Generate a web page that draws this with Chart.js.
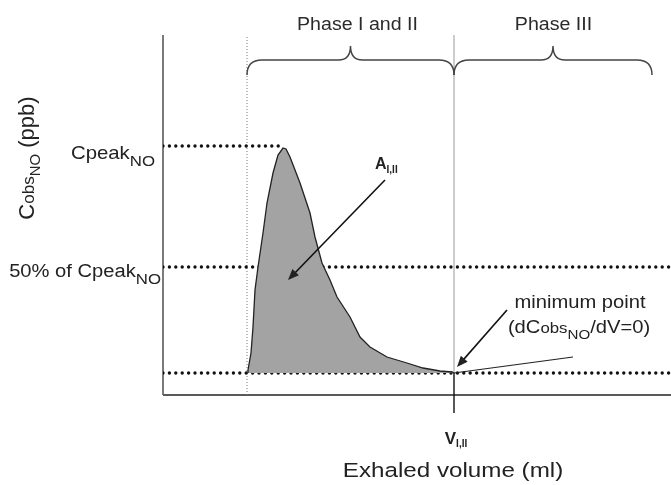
<!DOCTYPE html>
<html><head><meta charset="utf-8">
<script src="https://cdn.jsdelivr.net/npm/chart.js@4"></script>
<style>html,body{margin:0;padding:0;background:#fff}#wrap{width:671px;height:485px}</style>
</head><body><div id="wrap"><canvas id="c" width="671" height="485"></canvas></div>
<script>
// Exhaled NO profile (arbitrary units read from the schematic)
const volume = [85,85,88,90,92,95,100,104,110,115,120,123,127,137,147,152,159,167,174,187,197,207,224,244,260,277,289,291];
const cobs   = [22,25,42,68,105,128,162,192,222,240,247,246,238,212,182,158,132,115,98,78,58,48,38,32,27,24,23,22];
const cPeak = 249;   // Cpeak_NO level
const cHalf = 128;   // 50% of Cpeak_NO level
const cMin  = 22;    // minimum point level
const vStart = 84;   // start of exhalation
const vMin = 291;    // V_I,II
const phase3Volume = [291, 410];
const phase3Cobs   = [22, 38];
const xMax = 508, yMax = 360;
const phaseLabels = ['Phase I and II', 'Phase III'];
const phaseBounds = [[84, 291], [291, 489]];

const FONT = "'Liberation Sans', Arial, Helvetica, sans-serif";

function pts(xs, ys){ return xs.map((x,i)=>({x, y: ys[i]})); }

function rich(ctx, parts, x, y, align, s){
  s = s || 1.12;
  let w = 0;
  parts.forEach(p=>{ ctx.font = (p.bold?'bold ':'') + p.size + 'px ' + FONT; p.w = ctx.measureText(p.t).width; w += p.w; });
  const W = w * s;
  const sx = align === 'right' ? x - W : align === 'center' ? x - W/2 : x;
  ctx.save();
  ctx.translate(sx, y); ctx.scale(s, 1);
  let cx = 0;
  parts.forEach(p=>{ ctx.font = (p.bold?'bold ':'') + p.size + 'px ' + FONT; ctx.textAlign='left'; ctx.textBaseline='alphabetic'; ctx.fillText(p.t, cx, p.dy||0); cx += p.w; });
  ctx.restore();
}

function arrow(ctx, x1, y1, x2, y2){
  const a = Math.atan2(y2-y1, x2-x1), L = 11, W = 4.5;
  ctx.beginPath(); ctx.moveTo(x1,y1); ctx.lineTo(x2 - Math.cos(a)*L*0.8, y2 - Math.sin(a)*L*0.8); ctx.stroke();
  ctx.beginPath();
  ctx.moveTo(x2, y2);
  ctx.lineTo(x2 - Math.cos(a)*L + Math.sin(a)*W, y2 - Math.sin(a)*L - Math.cos(a)*W);
  ctx.lineTo(x2 - Math.cos(a)*L - Math.sin(a)*W, y2 - Math.sin(a)*L + Math.cos(a)*W);
  ctx.closePath(); ctx.fill();
}

const deco = {
  id: 'deco',
  beforeDatasetsDraw(chart){
    const {ctx, scales:{x, y}} = chart;
    ctx.save();
    ctx.strokeStyle = '#5a5a5a'; ctx.lineWidth = 1.6;
    ctx.beginPath(); ctx.moveTo(x.getPixelForValue(0), y.getPixelForValue(yMax)); ctx.lineTo(x.getPixelForValue(0), y.getPixelForValue(0)); ctx.stroke();
    ctx.lineWidth = 2;
    ctx.beginPath(); ctx.moveTo(x.getPixelForValue(0), y.getPixelForValue(0)); ctx.lineTo(x.getPixelForValue(xMax), y.getPixelForValue(0)); ctx.stroke();
    ctx.restore();
  },
  afterDatasetsDraw(chart){
    const {ctx, scales:{x, y}} = chart;
    const X = v => x.getPixelForValue(v), Y = v => y.getPixelForValue(v);
    ctx.save();
    // braces
    ctx.strokeStyle = '#444'; ctx.lineWidth = 1.5;
    const labelShift = [7, 0.5];
    phaseBounds.forEach(([a,b], i)=>{
      const x1 = X(a), x2 = X(b), xm = (x1+x2)/2;
      const yE = Y(yMax) + 40, yB = Y(yMax) + 25, yT = Y(yMax) + 11;
      ctx.beginPath();
      ctx.moveTo(x1, yE); ctx.quadraticCurveTo(x1, yB, x1+15, yB);
      ctx.lineTo(xm-12, yB); ctx.quadraticCurveTo(xm, yB, xm, yT);
      ctx.quadraticCurveTo(xm, yB, xm+12, yB);
      ctx.lineTo(x2-15, yB); ctx.quadraticCurveTo(x2, yB, x2, yE);
      ctx.stroke();
      ctx.fillStyle = '#2a2a2a';
      rich(ctx, [{t: phaseLabels[i], size: 17.5}], xm + labelShift[i], 30, 'center');
    });
    ctx.fillStyle = '#222'; ctx.strokeStyle = '#111'; ctx.lineWidth = 1.6;
    // level labels
    rich(ctx, [{t:'Cpeak', size:18.2},{t:'NO', size:15, dy:7}], X(0)-8, Y(cPeak)+13, 'right');
    rich(ctx, [{t:'50% of Cpeak', size:18},{t:'NO', size:15, dy:7}], X(0)-2, Y(cHalf)+10, 'right');
    // A_I,II
    rich(ctx, [{t:'A', size:16, bold:true},{t:'I,II', size:10, bold:true, dy:4}], X(212), Y(226), 'left', 1);
    arrow(ctx, X(222), Y(215), X(125), Y(115));
    // minimum point
    rich(ctx, [{t:'minimum point', size:18}], X(417), Y(87), 'center');
    rich(ctx, [{t:'(dC', size:18},{t:'obs', size:15},{t:'NO', size:13.5, dy:6},{t:'/dV=0)', size:18}], X(416), Y(62), 'center');
    arrow(ctx, X(344), Y(85), X(294), Y(28));
    // V_I,II
    rich(ctx, [{t:'V', size:17, bold:true},{t:'I,II', size:10, bold:true, dy:3}], X(vMin)+2, Y(0)+49, 'center', 1);
    // x title
    rich(ctx, [{t:'Exhaled volume (ml)', size:20.5}], X(vMin)-1, Y(0)+82, 'center', 1.18);
    // y title
    ctx.save();
    ctx.translate(34, 158); ctx.rotate(-Math.PI/2);
    rich(ctx, [{t:'C', size:22},{t:'obs', size:17},{t:'NO', size:15, dy:6},{t:' (ppb)', size:22}], 0, 0, 'center', 1);
    ctx.restore();
    ctx.restore();
  }
};

const dotted = (data) => ({ data, borderColor:'#111', borderWidth:3.4, borderDash:[0,6.4], borderCapStyle:'round', pointRadius:0, fill:false, tension:0 });

new Chart(document.getElementById('c'), {
  type: 'line',
  data: { datasets: [
    { data: pts(volume, cobs), borderColor:'#222', borderWidth:1.3, backgroundColor:'#a3a3a3', fill:{value:cMin}, pointRadius:0, tension:0 },
    { data: pts(phase3Volume, phase3Cobs), borderColor:'#222', borderWidth:1.2, pointRadius:0, fill:false, tension:0 },
    dotted(pts([0, 120], [cPeak, cPeak])),
    dotted(pts([0, xMax], [cHalf, cHalf])),
    dotted(pts([0, xMax], [cMin, cMin])),
    { data: pts([vStart, vStart], [0, yMax+3]), borderColor:'#777', borderWidth:1, borderDash:[1,2], pointRadius:0, fill:false },
    { data: pts([vMin, vMin], [cMin, yMax+5]), borderColor:'#aaa', borderWidth:1.2, pointRadius:0, fill:false },
    { data: pts([vMin, vMin], [-18, cMin]), borderColor:'#111', borderWidth:1.4, pointRadius:0, fill:false, clip:false }
  ]},
  options: {
    responsive:false, animation:false, events:[],
    layout:{ padding:{ left:163, top:35, right:0, bottom:90 } },
    plugins:{ legend:{display:false}, tooltip:{enabled:false} },
    scales:{
      x:{ type:'linear', min:0, max:xMax, display:false },
      y:{ type:'linear', min:0, max:yMax, display:false }
    }
  },
  plugins:[deco]
});
</script></body></html>
